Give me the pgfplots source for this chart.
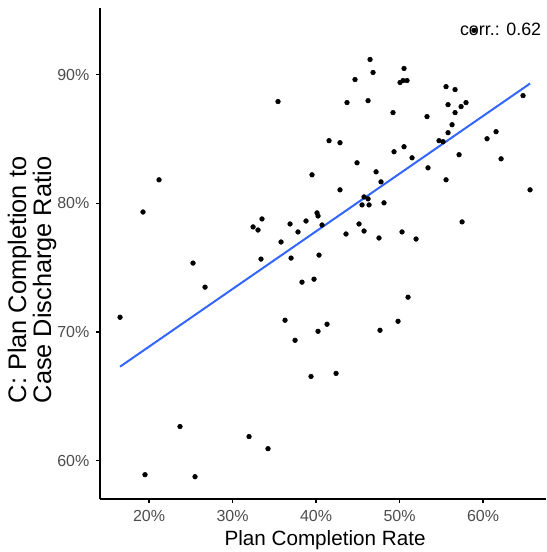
\documentclass[border=0pt]{standalone}
\usepackage{pgfplots}
\pgfplotsset{compat=1.18}
\usepackage{fontspec}
\setmainfont{Liberation Sans}
\definecolor{tickgray}{HTML}{4D4D4D}
\definecolor{fitblue}{HTML}{3366FF}

\begin{document}
\begin{tikzpicture}
\begin{axis}[
    name=ax,
    scale only axis,
    width=334.5pt,
    height=368.25pt,
    xmin=14.13, xmax=67.54,
    ymin=57.02, ymax=95.17,
    axis lines*=left,
    axis line style={black, line width=0.9pt},
    tick align=outside,
    major tick length=3pt,
    tick style={black, line width=0.9pt},
    xtick={20,30,40,50,60},
    xticklabels={20\%,30\%,40\%,50\%,60\%},
    ytick={60,70,80,90},
    yticklabels={60\%,70\%,80\%,90\%},
    ticklabel style={font=\fontsize{12}{14}\selectfont, text=tickgray},
    xticklabel style={yshift=-2pt},
    yticklabel style={xshift=-1.5pt},
    clip=false,
]
% plan completion rate vs. plan completion / case discharge ratio (percent)
\addplot[only marks, mark=*, mark size=1.75pt, black] coordinates {
    (58.92,93.43) (46.47,91.17) (46.83,90.16) (50.54,90.47) (44.67,89.61)
    (50.06,89.38) (50.42,89.53) (50.90,89.53) (55.57,89.06) (56.65,88.83)
    (43.71,87.82) (46.23,87.97) (49.22,87.04) (53.29,86.73) (55.81,87.66)
    (56.65,87.04) (57.37,87.51) (57.96,87.82) (64.79,88.36) (56.29,86.10)
    (55.81,85.48) (54.73,84.86) (55.21,84.78) (60.48,85.01) (61.56,85.56)
    (41.56,84.86) (42.87,84.70) (49.34,84.00) (50.54,84.39) (57.13,83.77)
    (44.91,83.14) (51.50,83.53) (53.41,82.75) (62.16,83.45) (39.52,82.21)
    (47.19,82.44) (47.78,81.66) (55.57,81.82) (42.87,81.04) (65.63,81.04)
    (35.45,87.90) (21.20,81.82) (19.28,79.32) (25.27,75.35) (26.71,73.48)
    (16.53,71.14) (32.46,78.16) (33.05,77.92) (33.53,78.78) (36.89,78.39)
    (38.80,78.62) (37.84,77.77) (35.81,76.99) (33.41,75.66) (37.01,75.74)
    (40.12,79.25) (40.24,79.01) (40.36,75.97) (38.32,73.87) (39.76,74.10)
    (36.29,70.91) (37.49,69.35) (40.24,70.05) (45.75,80.49) (46.23,80.34)
    (45.51,79.87) (46.35,79.87) (48.14,80.03) (40.72,78.31) (45.15,78.39)
    (43.59,77.61) (45.75,77.84) (47.54,77.30) (50.30,77.77) (51.98,77.22)
    (57.49,78.55) (51.02,72.70) (49.82,70.83) (47.66,70.13) (41.32,70.60)
    (39.40,66.54) (42.40,66.78) (23.71,62.65) (31.98,61.87) (34.25,60.93)
    (19.52,58.91) (25.51,58.75)
};
% linear fit
\addplot[fitblue, line width=1.5pt] coordinates {(16.53,67.30) (65.63,89.30)};
\node[anchor=base, font=\fontsize{13.4}{15}\selectfont] at (axis cs:62.1,93.05) {corr.: 0.62};
\node[anchor=base, font=\fontsize{15.5}{18}\selectfont] at (axis cs:41.08,57.02) [yshift=-35pt] {Plan Completion Rate};
\coordinate (O) at (rel axis cs:0,0);
\coordinate (YL) at (rel axis cs:0,0.446);
\end{axis}
\node[rotate=90, align=center, font=\fontsize{19}{17}\selectfont] at ([shift={(-51pt,0pt)}]YL)
    {C: Plan Completion to\\Case Discharge Ratio};
\pgfresetboundingbox
\path[use as bounding box] ([shift={(-75pt,-39.75pt)}]O) rectangle ([shift={(334.5pt,374.25pt)}]O);
\end{tikzpicture}
\end{document}
